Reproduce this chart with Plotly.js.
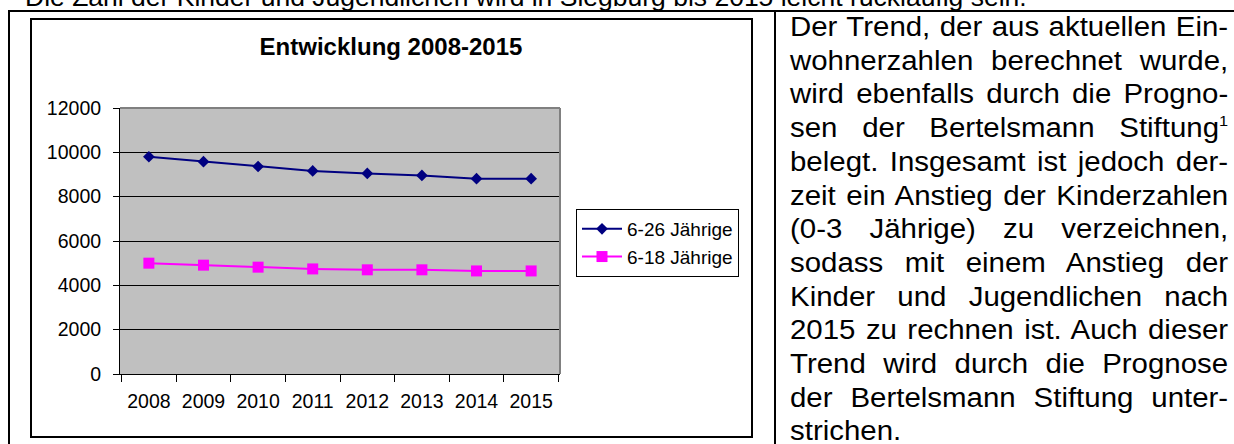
<!DOCTYPE html>
<html>
<head>
<meta charset="utf-8">
<script src="https://cdn.plot.ly/plotly-3.0.1.min.js"></script>
<style>
  html, body { margin:0; padding:0; background:#fff; }
  body { width:1234px; height:444px; overflow:hidden; position:relative;
         font-family:"Liberation Sans", Arial, sans-serif; color:#000; }
  .ln { position:absolute; background:#000; }
  #box { position:absolute; left:30px; top:18px; width:723px; height:420px;
         border:2px solid #000; box-sizing:border-box; }
  #chart { position:absolute; left:0; top:0; width:1234px; height:444px; }
  #topline { position:absolute; left:25px; top:-18px; font-size:26.5px; line-height:30px; white-space:nowrap; }
  #text { position:absolute; left:790px; top:11px; width:402px; font-size:27px; line-height:33.7px;
          transform:scaleX(1.09); transform-origin:0 0; }
  #text div { text-align:justify; text-align-last:justify; white-space:nowrap; }
  #text div.last { text-align-last:left; }
  sup { font-size:15px; line-height:0; vertical-align:11px; }
</style>
</head>
<body>
<div id="topline">Die Zahl der Kinder und Jugendlichen wird in Siegburg bis 2015 leicht rückläufig sein.</div>
<div class="ln" style="left:8px;top:10px;width:1226px;height:2px;"></div>
<div class="ln" style="left:8px;top:10px;width:2px;height:440px;"></div>
<div class="ln" style="left:774px;top:10px;width:2px;height:440px;"></div>
<div id="box"></div>
<div id="text">
  <div>Der Trend, der aus aktuellen Ein-</div>
  <div>wohnerzahlen berechnet wurde,</div>
  <div>wird ebenfalls durch die Progno-</div>
  <div>sen der Bertelsmann Stiftung<sup>1</sup></div>
  <div>belegt. Insgesamt ist jedoch der-</div>
  <div>zeit ein Anstieg der Kinderzahlen</div>
  <div>(0-3 Jährige) zu verzeichnen,</div>
  <div>sodass mit einem Anstieg der</div>
  <div>Kinder und Jugendlichen nach</div>
  <div>2015 zu rechnen ist. Auch dieser</div>
  <div>Trend wird durch die Prognose</div>
  <div>der Bertelsmann Stiftung unter-</div>
  <div class="last">strichen.</div>
</div>
<div id="chart"></div>
<script>
const years = ['2008', '2009', '2010', '2011', '2012', '2013', '2014', '2015'];
const age6to26 = [9800, 9580, 9360, 9160, 9050, 8960, 8810, 8810];
const age6to18 = [5000, 4910, 4820, 4740, 4700, 4700, 4650, 4650];
const seriesNames = ['6-26 Jährige', '6-18 Jährige'];
const chartTitle = 'Entwicklung 2008-2015';
const yTicks = [0, 2000, 4000, 6000, 8000, 10000, 12000];

const FONT = '"Liberation Sans", Arial, sans-serif';

const traces = [
  { x: years, y: age6to26, name: seriesNames[0], type: 'scatter', mode: 'lines+markers',
    line: { color: '#000080', width: 2 },
    marker: { symbol: 'diamond', size: 9, color: '#000080' } },
  { x: years, y: age6to18, name: seriesNames[1], type: 'scatter', mode: 'lines+markers',
    line: { color: '#FF00FF', width: 2 },
    marker: { symbol: 'square', size: 11, color: '#FF00FF' } }
];

const layout = {
  width: 1234, height: 444,
  margin: { l: 120, r: 674, t: 108, b: 70, pad: 0 },
  paper_bgcolor: 'rgba(0,0,0,0)',
  plot_bgcolor: '#C0C0C0',
  font: { family: FONT, color: '#000', size: 19 },
  title: { text: '<b>' + chartTitle + '</b>', font: { family: FONT, size: 24, color: '#000' },
           xref: 'container', yref: 'container', x: 391/1234, xanchor: 'center',
           y: 1 - 47/444, yanchor: 'middle' },
  xaxis: { type: 'category', categoryorder: 'array', categoryarray: years,
           tickson: 'boundaries', ticks: 'outside', ticklen: 7, tickcolor: '#000', tickwidth: 1,
           showline: true, linecolor: '#000', linewidth: 1, showgrid: false, zeroline: false,
           tickfont: { family: FONT, size: 19.5, color: '#000' }, ticklabelstandoff: 10,
           fixedrange: true },
  yaxis: { range: [0, 12000], tickvals: yTicks, ticktext: yTicks.map(String),
           ticks: 'outside', ticklen: 6, tickcolor: '#000', tickwidth: 1,
           showline: true, linecolor: '#000', linewidth: 1,
           showgrid: true, gridcolor: '#000', gridwidth: 1, zeroline: false,
           tickfont: { family: FONT, size: 19.5, color: '#000' }, ticklabelstandoff: 8,
           fixedrange: true },
  showlegend: true,
  legend: { x: (576-120)/440, xanchor: 'left', y: (374-209)/266, yanchor: 'top',
            bgcolor: '#fff', bordercolor: '#000', borderwidth: 1,
            font: { family: FONT, size: 19, color: '#000' }, itemwidth: 40,
            tracegroupgap: 0 },
  shapes: [
    { type: 'line', xref: 'paper', yref: 'paper', x0: 0, x1: 1, y0: 1, y1: 1,
      line: { color: '#808080', width: 2 }, layer: 'above' },
    { type: 'line', xref: 'paper', yref: 'paper', x0: 1, x1: 1, y0: 0, y1: 1,
      line: { color: '#808080', width: 2 }, layer: 'above' }
  ]
};

Plotly.newPlot('chart', traces, layout, { displayModeBar: false, staticPlot: true });
</script>
</body>
</html>
